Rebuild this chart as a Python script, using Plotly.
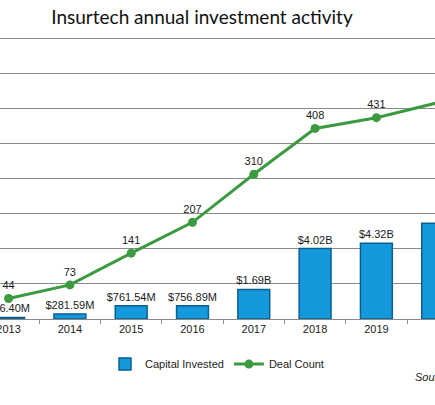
import plotly.graph_objects as go

years = ['2013', '2014', '2015', '2016', '2017', '2018', '2019', '2020']
capital_b = [0.0864, 0.28159, 0.76154, 0.75689, 1.69, 4.02, 4.32, 5.47]
capital_labels = ['$86.40M', '$281.59M', '$761.54M', '$756.89M', '$1.69B', '$4.02B', '$4.32B', '$5.47B']
deal_count = [44, 73, 141, 207, 310, 408, 431, 463]

fig = go.Figure()

fig.add_trace(go.Bar(
    x=years, y=capital_b,
    name='Capital Invested',
    width=0.52,
    marker=dict(color='#1399dc', line=dict(color='#0b5f8f', width=1.5)),
    text=capital_labels,
    textposition='outside',
    constraintext='none',
    textfont=dict(family='Arial', size=11, color='#1a1a1a'),
    cliponaxis=False,
))

fig.add_trace(go.Scatter(
    x=years, y=deal_count,
    name='Deal Count',
    yaxis='y2',
    mode='lines+markers+text',
    line=dict(color='#3c9a40', width=3),
    marker=dict(color='#3c9a40', size=9),
    text=[str(v) for v in deal_count],
    textposition='top center',
    textfont=dict(family='Arial', size=11, color='#1a1a1a'),
    cliponaxis=False,
))

fig.update_layout(
    width=435, height=405,
    margin=dict(l=0, r=0, t=30.25, b=86, autoexpand=False),
    paper_bgcolor='white', plot_bgcolor='white',
    title=dict(
        text='Insurtech annual investment activity',
        font=dict(family='Lato', size=19, color='#111111'),
        x=202 / 435, xanchor='center',
        y=1 - 17 / 405, yanchor='middle', yref='container',
    ),
    xaxis=dict(
        type='category',
        range=[-0.14, 6.956],
        showline=True, linecolor='#8a8a8a', linewidth=1,
        ticks='outside', tickson='boundaries', ticklen=4, tickcolor='#8a8a8a',
        tickfont=dict(family='Arial', size=11, color='#1a1a1a'),
        showgrid=False,
    ),
    yaxis=dict(
        range=[0, 16.5], tick0=0, dtick=2,
        showgrid=True, gridcolor='#8a8a8a', gridwidth=1,
        showticklabels=False, zeroline=False,
    ),
    yaxis2=dict(
        range=[0, 618.75], overlaying='y', side='right',
        showgrid=False, showticklabels=False, zeroline=False,
    ),
    showlegend=True,
    legend=dict(
        orientation='h',
        x=105 / 435, xanchor='left',
        y=-0.156, yanchor='middle',
        font=dict(family='Arial', size=11, color='#222222'),
        itemwidth=30,
    ),
    annotations=[dict(
        text='<i>Source: CB Insights</i>',
        xref='paper', yref='paper',
        x=413 / 435, xanchor='left',
        y=-0.201, yanchor='middle',
        showarrow=False,
        font=dict(family='Arial', size=11, color='#222222'),
    )],
)

fig.write_html('out.html', config={'displayModeBar': False},
               post_script="document.body.style.margin='0';")
